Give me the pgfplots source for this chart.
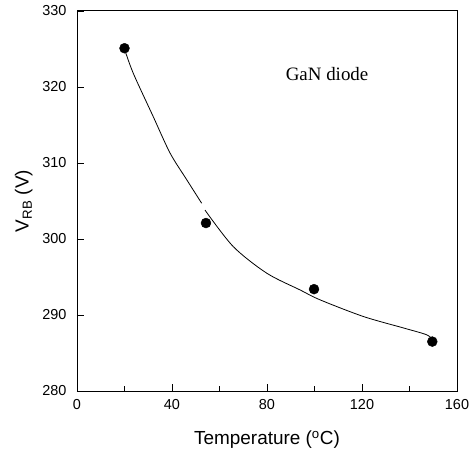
\documentclass[border=0pt]{standalone}
\usepackage{pgfplots}
\pgfplotsset{compat=1.18}
\usepackage{fontspec}
\setmainfont{Liberation Sans}
\newfontfamily\serif{Liberation Serif}

\begin{document}
\begin{tikzpicture}
	\begin{axis}[
		scale only axis,
		width=380bp, height=380bp,
		xmin=0, xmax=160,
		ymin=280, ymax=330,
		xtick={0,40,...,160},
		minor xtick={20,60,100,140},
		ytick={280,290,...,330},
		xtick pos=bottom, ytick pos=left,
		tick align=inside,
		major tick length=7bp,
		minor tick length=5bp,
		every tick/.style={black, line width=0.9pt},
		axis line style={line width=1pt},
		/pgf/number format/assume math mode=true,
		tick label style={font=\fontsize{14.5}{17}\selectfont},
		xticklabel style={yshift=-5bp},
		yticklabel style={xshift=-7bp},
		xlabel={Temperature (\textsuperscript{o}C)},
		ylabel={V\textsubscript{RB} (V)},
		label style={font=\fontsize{19}{22}\selectfont},
		xlabel style={yshift=-14bp},
		ylabel style={yshift=3bp},
		clip=false]
	% measured points
	\addplot[only marks, mark=*, mark size=5pt, black] coordinates {
		(20,325.1)
		(54.3,302.1)
		(99.8,293.4)
		(149.6,286.5)
	};
	% fitted curve (drawn with a small break near 53)
	\addplot[smooth, black, line width=0.8pt] coordinates {
		(20,325.0)
		(23.7,321.8)
		(32.1,316.1)
		(39.2,311.3)
		(46.2,307.8)
		(52.5,304.7)
	};
	\addplot[smooth, black, line width=0.8pt] coordinates {
		(53.9,303.8)
		(65.8,299.0)
		(79.9,295.5)
		(93.9,293.3)
		(102.3,292.0)
		(120.6,289.8)
		(137.4,288.3)
		(147.2,287.4)
		(150,286.7)
	};
	\node[font=\serif\fontsize{19}{22}\selectfont] at (axis cs:105.3,321.7) {GaN diode};
	\end{axis}
	\pgfresetboundingbox
	\path (current axis.south west) ++(-77bp,-62bp) rectangle ([shift={(12bp,11bp)}]current axis.north east);
\end{tikzpicture}
\end{document}
